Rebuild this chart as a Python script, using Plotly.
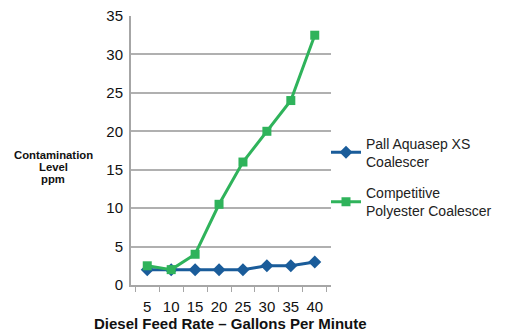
import plotly.graph_objects as go

flow_rates = ["5", "10", "15", "20", "25", "30", "35", "40"]
pall_values = [2, 2, 2, 2, 2, 2.5, 2.5, 3]
competitive_values = [2.5, 2, 4, 10.5, 16, 20, 24, 32.5]
series_names = ["Pall Aquasep XS<br>Coalescer", "Competitive<br>Polyester Coalescer"]
y_ticks = [0, 5, 10, 15, 20, 25, 30, 35]
y_title_lines = ["Contamination", "Level", "ppm"]

blue = "#1a5c9a"
green = "#2fb35b"

fig = go.Figure()
fig.add_trace(go.Scatter(
    x=flow_rates, y=pall_values, name=series_names[0], mode="lines+markers",
    legendgroup="a",
    line=dict(color=blue, width=3),
    marker=dict(symbol="diamond", size=10, color=blue),
))
fig.add_trace(go.Scatter(
    x=flow_rates, y=competitive_values, name=series_names[1], mode="lines+markers",
    legendgroup="b",
    line=dict(color=green, width=3),
    marker=dict(symbol="square", size=9, color=green),
))

annotations = []
for line, yy in zip(y_title_lines, [0.483, 0.439, 0.394]):
    annotations.append(dict(text="<b>%s</b>" % line, x=-0.39, y=yy, xref="paper",
                            yref="paper", showarrow=False, font=dict(size=11.3),
                            xanchor="center", yanchor="middle"))
annotations.append(dict(text="<b>Diesel Feed Rate – Gallons Per Minute</b>", x=0.495,
                        y=-0.142, xref="paper", yref="paper", showarrow=False,
                        font=dict(size=15), xanchor="center", yanchor="middle"))

fig.update_layout(
    width=500, height=328,
    margin=dict(l=123, r=177, t=8, b=51),
    paper_bgcolor="white", plot_bgcolor="white",
    font=dict(family="Arial, Liberation Sans, sans-serif", color="#111111"),
    showlegend=True,
    legend=dict(x=0.975, y=0.401, xanchor="left", yanchor="middle",
                font=dict(size=14, color="#222222"),
                tracegroupgap=10, itemwidth=30, bgcolor="rgba(0,0,0,0)"),
    xaxis=dict(type="category", tickson="boundaries", ticks="outside", ticklen=5,
               tickcolor="#a6a6a6", showline=True, linecolor="#a6a6a6", linewidth=2,
               showgrid=False, tickfont=dict(size=15), tickangle=0, automargin=False,
               ticklabelstandoff=7, ticklabeloverflow="allow"),
    yaxis=dict(range=[0, 35], tickvals=y_ticks, showline=True, linecolor="#a6a6a6",
               linewidth=2, showgrid=True, gridcolor="#b0b0b0", gridwidth=1.5,
               ticks="", tickfont=dict(size=15), zeroline=False, automargin=False,
               ticklabelstandoff=3, ticklabeloverflow="allow"),
    annotations=annotations,
)
fig.write_html("out.html")
